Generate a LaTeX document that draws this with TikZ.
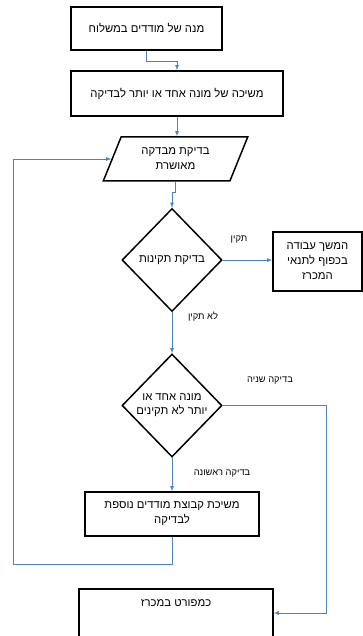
\documentclass[tikz,border=0pt]{standalone}
\usepackage{fontspec}
\newfontfamily\hebfont[Script=Hebrew]{Liberation Sans}
\TeXXeTstate=1
\usetikzlibrary{shapes.geometric}
\newcommand{\heb}[1]{\hebfont\beginR #1\endR}

\begin{document}
\begin{tikzpicture}[x=1pt, y=-1pt, nodes = {align = center}, >=latex]

  \tikzstyle{block}=[draw, rectangle, line width=1.5pt, inner sep=0pt, font=\fontsize{11.3}{15}\selectfont]
  \tikzstyle{data}=[draw, trapezium, trapezium left angle=63, trapezium right angle=117, trapezium stretches=true, line width=1.5pt, inner sep=0pt, minimum width=145, minimum height=44, font=\fontsize{11.3}{15}\selectfont]
  \tikzstyle{decision}=[draw, diamond, line width=1.5pt, inner sep=0pt, minimum width=100, minimum height=103, font=\fontsize{11.3}{14}\selectfont]
  \tikzstyle{flow}=[draw, ->, color={rgb,255:red,79;green,129;blue,189}, line width=0.8pt]
  \tikzstyle{lbl}=[inner sep=0pt, font=\fontsize{9.3}{11}\selectfont]

  \useasboundingbox (0,0) rectangle (363,636);

  \node[block, minimum width=151, minimum height=43] (b1) at (146.5,28.5) {\heb{מנה של מודדים במשלוח}};
  \node[block, minimum width=212, minimum height=45] (b2) at (177,93.5) {\heb{משיכה של מונה אחד או יותר לבדיקה}};
  \node[data] (check) at (175.5,159) {\heb{בדיקת מבדקה}\\\heb{מאושרת}};

  \node[decision] (d1) at (172,260) {\heb{בדיקת תקינות}};
  \node[block, minimum width=89, minimum height=59] (b3) at (317.5,261.5) {\heb{המשך עבודה}\\\heb{בכפוף לתנאי}\\\heb{המכרז}};

  \node[decision] (d2) at (172,405.5) {\heb{מונה אחד או}\\\heb{יותר לא תקינים}};
  \node[block, minimum width=174, minimum height=44] (b4) at (172,514) {\heb{משיכת קבוצת מודדים נוספת}\\\heb{לבדיקה}};
  % bottom box runs past the page edge
  \node[block, minimum width=194, anchor=north, text height=8pt, text depth=60pt, inner ysep=10pt] (b5) at (176,588) {\heb{כמפורט במכרז}};

  % edge labels
  \node[lbl] (l-ok) at (239,240) {\heb{תקין}};
  \node[lbl] (l-nok) at (203,317) {\heb{לא תקין}};
  \node[lbl] (l-second) at (270,381) {\heb{בדיקה שניה}};
  \node[lbl] (l-first) at (222,474) {\heb{בדיקה ראשונה}};

  \draw[flow] (b1.south) -- ++(0,11) -| (b2.north);
  \draw[flow] (b2.south) -- (b2.south |- check.north);
  \draw[flow] (check.south) -- ++(0,11) -| (d1.north);
  \draw[flow] (d1.east) -- (d1.east -| b3.west);
  \draw[flow] (d1.south) -- (d2.north);
  \draw[flow] (d2.south) -- (b4.north);
  \draw[flow] (d2.east) -- ++(104,0) |- ([yshift=-25pt]b5.north east);
  \draw[flow] (b4.south) -- ++(0,28) -- ++(-159,0) |- (check.west);

\end{tikzpicture}
\end{document}
